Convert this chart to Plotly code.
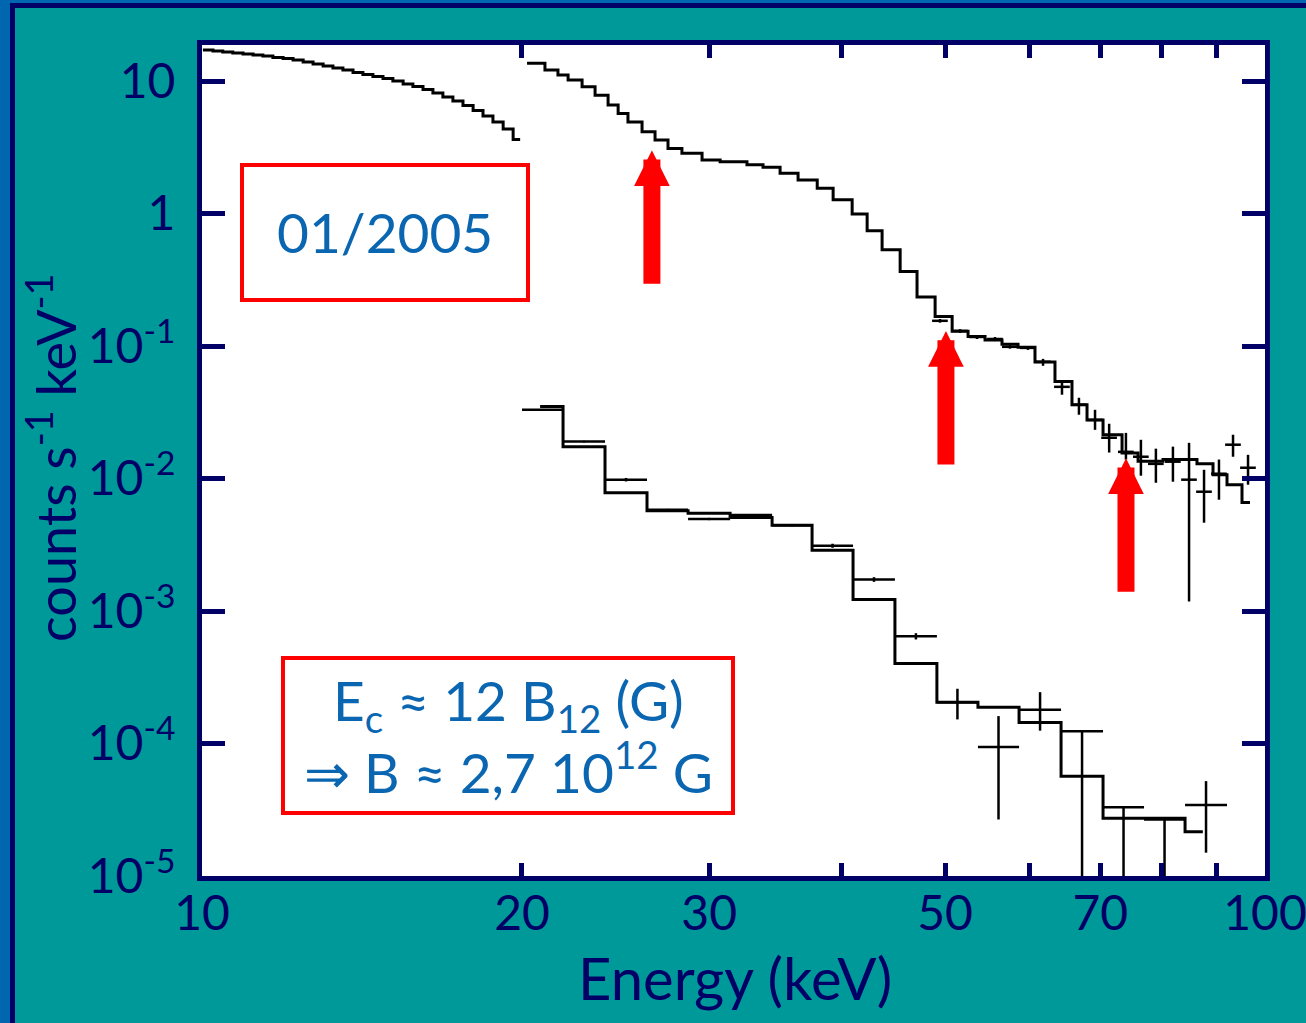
import numpy as np
import plotly.graph_objects as go

# ---------------- DATA ----------------
# Low-energy spectrum 10-20 keV (step bins: edges + rate per bin)
le_edges = [10.02, 10.24, 10.46, 10.69, 10.93, 11.17, 11.41, 11.66, 11.92, 12.18,
            12.45, 12.72, 13.00, 13.28, 13.57, 13.87, 14.17, 14.48, 14.80, 15.12,
            15.46, 15.79, 16.14, 16.49, 16.85, 17.22, 17.60, 17.99, 18.38, 18.78,
            19.20, 19.62, 19.92]
le_rate = [17.13, 16.84, 16.55, 16.26, 15.98, 15.71, 15.44, 15.04, 14.78, 14.40,
           13.91, 13.44, 12.98, 12.53, 12.11, 11.59, 11.19, 10.81, 10.44, 10.00,
           9.49, 9.09, 8.63, 8.12, 7.57, 7.07, 6.54, 5.99, 5.45, 4.91,
           4.35, 3.62]

# Upper high-energy spectrum: model steps
up_edges = [20.22, 21.02, 21.62, 22.10, 22.78, 23.43, 24.10, 24.63, 25.16, 25.94,
            26.68, 27.44, 28.28, 29.54, 30.72, 32.56, 33.71, 34.98, 36.37, 37.91,
            39.24, 40.89, 42.24, 43.63, 45.37, 47.06, 48.94, 50.78, 52.56, 54.53,
            56.57, 58.57, 60.76, 63.45, 65.83, 68.01, 70.41, 73.37, 75.96, 80.18,
            86.30, 89.35, 92.10, 95.14, 96.80]
up_model = [13.6, 12.1, 11.1, 10.2, 9.06, 7.8, 6.6, 5.7, 4.9, 4.15,
            3.59, 3.1, 2.85, 2.54, 2.46, 2.33, 2.24, 2.01, 1.79, 1.55,
            1.27, 0.99, 0.743, 0.532, 0.365, 0.234, 0.167, 0.129, 0.118, 0.111,
            0.103, 0.098, 0.0756, 0.054, 0.036, 0.0277, 0.0214, 0.0156, 0.0135, 0.0139,
            0.0129, 0.0107, 0.00898, 0.0066]

# Upper spectrum: data points with error bars
up_data_e = [49.46, 51.66, 53.59, 55.72, 57.55, 59.84, 61.83, 64.42, 66.83, 69.20,
             71.35, 73.99, 76.43, 78.95, 81.92, 84.83, 87.63, 90.51, 93.31, 96.39]
up_data_v = [0.155, 0.130, 0.117, 0.113, 0.0986, 0.0968, 0.0760, 0.0492, 0.0360, 0.0277,
             0.0203, 0.0159, 0.0146, 0.0129, 0.0134, 0.0098, 0.00795, 0.01087, 0.0180, 0.01206]
up_data_lo = [0.150, 0.126, 0.113, 0.109, 0.0955, 0.0935, 0.0709, 0.0429, 0.0303, 0.0233,
              0.0157, 0.0139, 0.0105, 0.00929, 0.00946, 0.00118, 0.00464, 0.00692, 0.0146, 0.00898]
up_data_hi = [0.160, 0.134, 0.121, 0.117, 0.1015, 0.1000, 0.0800, 0.0537, 0.0407, 0.0330,
              0.0259, 0.0221, 0.0196, 0.0168, 0.0174, 0.0186, 0.01164, 0.0139, 0.0214, 0.0151]

# Lower spectrum: data bins
lo_edges = [20.0, 21.86, 23.94, 26.22, 28.66, 31.39, 34.38, 37.49, 40.97, 44.86,
            49.13, 53.70, 58.70, 64.29, 70.41, 76.95, 84.10, 92.10]
lo_data_v = [0.0330, 0.0190, 0.0098, 0.0058, 0.00495, 0.00530, 0.00443, 0.00311, 0.00173, 0.000646,
             2.05e-4, 9.4e-5, 1.80e-4, 1.24e-4, 3.31e-5, 2.67e-5, 3.43e-5]
lo_data_lo = [0.0325, 0.0187, 0.0095, 0.0057, 0.00485, 0.0052, 0.00435, 0.00300, 0.00166, 0.00061,
              1.52e-4, 2.67e-5, 1.25e-4, 1e-7, 1e-7, 1e-7, 1.5e-5]
lo_data_hi = [0.0335, 0.0193, 0.0101, 0.0059, 0.00505, 0.0054, 0.00451, 0.00322, 0.0018, 0.00068,
              2.59e-4, 1.61e-4, 2.44e-4, 1.26e-4, 3.35e-5, 2.70e-5, 5.2e-5]

# Lower spectrum: model steps
lo_model_edges = [20.8, 21.86, 23.94, 26.22, 28.66, 31.39, 34.38, 37.49, 40.97, 44.86,
                  49.13, 53.70, 58.70, 64.29, 70.41, 76.95, 84.10, 87.4]
lo_model_v = [0.035, 0.0174, 0.0078, 0.00571, 0.00548, 0.00509, 0.00443, 0.00287, 0.00122, 0.000401,
              2.05e-4, 1.88e-4, 1.44e-4, 5.65e-5, 2.73e-5, 2.73e-5, 2.16e-5]

# Cyclotron line arrows
line_energies = [26.5, 50.1, 74.0]
line_tip_values = [3.0, 0.13, 0.0142]

x_tickvals = [10, 20, 30, 40, 50, 60, 70, 80, 90, 100]
x_ticktext = ['10', '20', '30', '', '50', '', '70', '', '', '100']
y_tickvals = [10, 1, 0.1, 0.01, 1e-3, 1e-4, 1e-5]
y_ticktext = ['10', '1', '10<sup>-1</sup>', '10<sup>-2</sup>', '10<sup>-3</sup>',
              '10<sup>-4</sup>', '10<sup>-5</sup>']

# ---------------- STYLE ----------------
W, H = 1306, 1023
L, R, T, B = 202, 41, 45, 147
PW, PH = W - L - R, H - T - B
NAVY = '#000066'
TEAL = '#009999'
BLUE_TXT = '#0a66b0'
RED = '#ff0000'
FONT = 'Lato'


def px(x):
    return (x - L) / PW


def py(y):
    return (H - B - y) / PH


def steps(edges, vals):
    return list(edges), list(vals) + [vals[-1]]


fig = go.Figure()

for ed, vv in [(le_edges, le_rate), (up_edges, up_model), (lo_model_edges, lo_model_v)]:
    sx, sy = steps(ed, vv)
    fig.add_trace(go.Scatter(x=sx, y=sy, mode='lines', line=dict(color='black', width=3, shape='hv'),
                             hoverinfo='skip', showlegend=False))

# upper data crosses
ue = np.array(up_data_e)
uv = np.array(up_data_v)
fig.add_trace(go.Scatter(
    x=ue, y=uv, mode='markers', marker=dict(size=1, color='black'), showlegend=False,
    error_y=dict(type='data', symmetric=False, array=np.array(up_data_hi) - uv,
                 arrayminus=uv - np.array(up_data_lo), color='black', thickness=2.5, width=0),
    error_x=dict(type='percent', value=1.7, color='black', thickness=2.5, width=0)))

# lower data crosses
le_lo = np.array(lo_edges[:-1])
le_hi = np.array(lo_edges[1:])
lc = np.sqrt(le_lo * le_hi)
lv = np.array(lo_data_v)
fig.add_trace(go.Scatter(
    x=lc, y=lv, mode='markers', marker=dict(size=1, color='black'), showlegend=False,
    error_y=dict(type='data', symmetric=False, array=np.array(lo_data_hi) - lv,
                 arrayminus=lv - np.array(lo_data_lo), color='black', thickness=2.5, width=0),
    error_x=dict(type='data', symmetric=False, array=le_hi - lc, arrayminus=lc - le_lo,
                 color='black', thickness=2.5, width=0)))

annotations = []
for e, v in zip(line_energies, line_tip_values):
    annotations.append(dict(x=np.log10(e), y=np.log10(v), xref='x', yref='y', text='',
                            showarrow=True, arrowhead=2, arrowsize=0.42, arrowwidth=17,
                            arrowcolor=RED, ax=0, ay=135, standoff=0))

annotations.append(dict(x=px(384.5), y=py(232), xref='paper', yref='paper', text='01/2005',
                        showarrow=False, font=dict(family=FONT, size=55, color=BLUE_TXT),
                        xanchor='center', yanchor='middle'))
annotations.append(dict(x=px(508), y=py(736), xref='paper', yref='paper',
                        text='E<sub>c</sub> ≈ 12 B<sub>12</sub> (G)<br>⇒ B ≈ 2,7 10<sup>12</sup> G',
                        showarrow=False, font=dict(family=FONT, size=55, color=BLUE_TXT),
                        xanchor='center', yanchor='middle', align='center'))
annotations.append(dict(x=px(735), y=py(977), xref='paper', yref='paper', text='Energy (keV)',
                        showarrow=False, font=dict(family=FONT, size=58, color=NAVY),
                        xanchor='center', yanchor='middle'))
annotations.append(dict(x=px(52), y=py(458), xref='paper', yref='paper',
                        text='counts s<sup>-1</sup> keV<sup>-1</sup>', textangle=-90,
                        showarrow=False, font=dict(family=FONT, size=54, color=NAVY),
                        xanchor='center', yanchor='middle'))

shapes = [
    # text boxes
    dict(type='rect', xref='paper', yref='paper', x0=px(242), x1=px(528), y0=py(300), y1=py(165),
         line=dict(color=RED, width=4), fillcolor='white', layer='above'),
    dict(type='rect', xref='paper', yref='paper', x0=px(283), x1=px(733), y0=py(813), y1=py(658),
         line=dict(color=RED, width=4), fillcolor='white', layer='below'),
    # slide frame (left and top edges only)
    dict(type='rect', xref='paper', yref='paper', x0=px(0), x1=px(10), y0=py(H), y1=py(0),
         line=dict(width=0), fillcolor='#0066b0', layer='above'),
    dict(type='rect', xref='paper', yref='paper', x0=px(0), x1=px(W), y0=py(3), y1=py(0),
         line=dict(width=0), fillcolor='#0066b0', layer='above'),
    dict(type='rect', xref='paper', yref='paper', x0=px(10), x1=px(15), y0=py(H), y1=py(3),
         line=dict(width=0), fillcolor=NAVY, layer='above'),
    dict(type='rect', xref='paper', yref='paper', x0=px(10), x1=px(W), y0=py(8), y1=py(3),
         line=dict(width=0), fillcolor=NAVY, layer='above'),
]

fig.update_layout(
    template='none',
    width=W, height=H, autosize=False,
    margin=dict(l=L, r=R, t=T, b=B, pad=0),
    paper_bgcolor=TEAL, plot_bgcolor='white',
    showlegend=False,
    annotations=annotations, shapes=shapes,
    xaxis=dict(type='log', range=[1, 2], tickvals=x_tickvals, ticktext=x_ticktext,
               ticks='inside', ticklen=13, tickwidth=5, tickcolor=NAVY,
               showline=True, linewidth=5, linecolor=NAVY, mirror='ticks',
               showgrid=False, zeroline=False, ticklabelstandoff=-9, automargin=False,
               ticklabeloverflow='allow',
               tickfont=dict(family=FONT, size=48, color=NAVY)),
    yaxis=dict(type='log', range=[-5, 1.272], tickvals=y_tickvals, ticktext=y_ticktext,
               ticks='inside', ticklen=23, tickwidth=5, tickcolor=NAVY,
               showline=True, linewidth=5, linecolor=NAVY, mirror='ticks',
               showgrid=False, zeroline=False, ticklabelstandoff=12, automargin=False,
               ticklabeloverflow='allow',
               tickfont=dict(family=FONT, size=48, color=NAVY)),
)

fig.write_html("out.html", config={'displayModeBar': False},
               post_script="document.body.style.margin='0';document.body.style.overflow='hidden';")
